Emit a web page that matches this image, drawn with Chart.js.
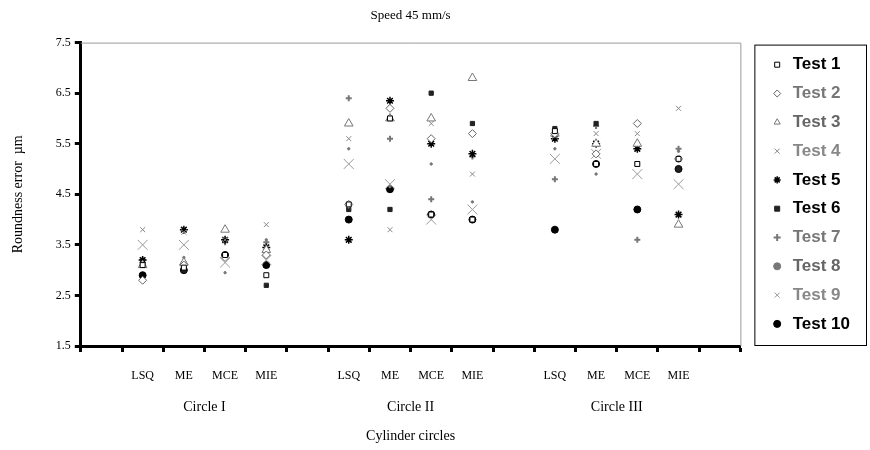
<!DOCTYPE html>
<html>
<head>
<meta charset="utf-8">
<script src="https://cdn.jsdelivr.net/npm/chart.js@4"></script>
<style>
  html, body { margin: 0; padding: 0; background: #fff; }
  #wrap { width: 870px; height: 450px; }
</style>
</head>
<body>
<div id="wrap"><canvas id="myChart" width="870" height="450"></canvas></div>
<script>
const methods = ['LSQ', 'ME', 'MCE', 'MIE'];
const circles = ['Circle I', 'Circle II', 'Circle III'];
const yTicks = [1.5, 2.5, 3.5, 4.5, 5.5, 6.5, 7.5];

// Circle I (LSQ, ME, MCE, MIE), Circle II (...), Circle III (...)
const test1 = [3.1, 3.05, 3.3, 2.9, 4.3, 6.0, 4.1, 4.0, 5.75, 5.1, 5.1, 5.2];
const test2 = [2.8, 3.1, 3.25, 3.3, 4.3, 6.2, 5.6, 5.7, 5.7, 5.3, 5.9, 5.2];
const test3 = [3.1, 3.15, 3.8, 3.4, 5.9, 6.0, 6.0, 6.8, 5.7, 5.5, 5.5, 3.9];
const test4 = [3.8, 3.75, 3.6, 3.9, 5.6, 3.8, 5.9, 4.9, 5.65, 5.7, 5.7, 6.2];
const test5 = [3.2, 3.8, 3.6, 3.45, 3.6, 6.35, 5.5, 5.3, 5.6, 5.5, 5.4, 4.1];
const test6 = [3.1, 3.0, 3.3, 2.7, 4.2, 4.2, 6.5, 5.9, 5.8, 5.9, 5.1, 5.0];
const test7 = [3.2, 3.15, 3.55, 3.55, 6.4, 5.6, 4.4, 5.25, 4.8, 5.85, 3.6, 5.4];
const test8 = [3.15, 3.25, 2.95, 3.6, 5.4, 4.65, 5.1, 4.35, 5.4, 4.9, 5.4, 5.35];
const test9 = [3.5, 3.5, 3.15, 3.2, 5.1, 4.7, 4.0, 4.2, 5.2, 5.3, 4.9, 4.7];
const test10 = [2.9, 3.0, 3.3, 3.1, 4.0, 4.6, 4.1, 4.0, 3.8, 5.1, 4.2, 5.0];

// one empty slot before, between and after the circle groups
const labels = [''];
circles.forEach(() => labels.push(...methods, ''));

const spread = (vals) => {
  const out = [null];
  circles.forEach((c, g) => {
    out.push(...vals.slice(g * methods.length, (g + 1) * methods.length), null);
  });
  return out;
};

const serif = 'Liberation Serif';

// grey frame on top/right of the plot, box around the legend
const framePlugin = {
  id: 'frame',
  beforeDatasetsDraw(chart) {
    const { ctx, chartArea: a } = chart;
    ctx.save();
    ctx.strokeStyle = '#999';
    ctx.lineWidth = 1;
    ctx.beginPath();
    ctx.moveTo(a.left, a.top + 0.5);
    ctx.lineTo(a.right + 0.5, a.top + 0.5);
    ctx.lineTo(a.right + 0.5, a.bottom);
    ctx.stroke();
    const l = chart.legend;
    ctx.strokeStyle = '#000';
    ctx.strokeRect(l.left - 3.5, a.top + 2.5, chart.width - 4 - l.left + 4, a.bottom - a.top - 3);
    ctx.restore();
  },
};

const ctx = document.getElementById('myChart');

new Chart(ctx, {
  type: 'line',
  data: {
    labels: labels,
    datasets: [
      { label: 'Test 1', data: spread(test1), pointStyle: 'rect', pointRadius: 3.5, backgroundColor: '#fff', borderColor: '#000', borderWidth: 1, textColor: '#000' },
      { label: 'Test 2', data: spread(test2), pointStyle: 'rectRot', pointRadius: 4, backgroundColor: '#fff', borderColor: '#666', borderWidth: 1, textColor: '#777' },
      { label: 'Test 3', data: spread(test3), pointStyle: 'triangle', pointRadius: 5, backgroundColor: '#fff', borderColor: '#777', borderWidth: 1, textColor: '#666' },
      { label: 'Test 4', data: spread(test4), pointStyle: 'crossRot', pointRadius: 3.5, backgroundColor: '#888', borderColor: '#888', borderWidth: 1, textColor: '#888' },
      { label: 'Test 5', data: spread(test5), pointStyle: 'star', pointRadius: 4, backgroundColor: '#000', borderColor: '#000', borderWidth: 1.5, textColor: '#000' },
      { label: 'Test 6', data: spread(test6), pointStyle: 'rect', pointRadius: 3, backgroundColor: '#222', borderColor: '#222', borderWidth: 1, textColor: '#000' },
      { label: 'Test 7', data: spread(test7), pointStyle: 'cross', pointRadius: 3, backgroundColor: '#777', borderColor: '#777', borderWidth: 2, textColor: '#777' },
      { label: 'Test 8', data: spread(test8), pointStyle: 'circle', pointRadius: 1.2, backgroundColor: '#777', borderColor: '#777', borderWidth: 1, textColor: '#666' },
      { label: 'Test 9', data: spread(test9), pointStyle: 'crossRot', pointRadius: 7, backgroundColor: '#999', borderColor: '#999', borderWidth: 1, textColor: '#888' },
      { label: 'Test 10', data: spread(test10), pointStyle: 'circle', pointRadius: 3.5, backgroundColor: '#000', borderColor: '#000', borderWidth: 1, textColor: '#000' },
    ],
  },
  options: {
    responsive: false,
    animation: false,
    showLine: false,
    layout: { padding: { left: 0, right: 10, top: 0, bottom: 0 } },
    plugins: {
      title: {
        display: true,
        fullSize: false,
        text: 'Speed 45 mm/s',
        color: '#000',
        font: { family: serif, size: 13, weight: 'normal' },
        padding: { top: 8, bottom: 19 },
      },
      legend: {
        position: 'right',
        align: 'center',
        fullSize: false,
        labels: {
          usePointStyle: true,
          boxWidth: 14,
          boxHeight: 5,
          padding: 11.8,
          font: { family: 'Liberation Sans', size: 17, weight: 'bold' },
          generateLabels: (chart) => {
            const items = Chart.defaults.plugins.legend.labels.generateLabels(chart);
            items.forEach((it, i) => { it.fontColor = chart.data.datasets[i].textColor; });
            return items;
          },
        },
      },
      tooltip: { enabled: false },
    },
    scales: {
      x: {
        type: 'category',
        offset: true,
        weight: 0,
        grid: { display: true, offset: true, drawOnChartArea: false, drawTicks: true, tickLength: 6, tickWidth: 3, tickColor: '#000' },
        border: { display: true, width: 3, color: '#000' },
        ticks: { autoSkip: false, maxRotation: 0, padding: 17, color: '#000', font: { family: serif, size: 12 } },
      },
      x2: {
        type: 'linear',
        position: 'bottom',
        weight: 1,
        min: 0,
        max: labels.length,
        grid: { display: false },
        border: { display: false },
        afterBuildTicks: (axis) => {
          axis.ticks = circles.map((c, g) => ({ value: 1 + g * (methods.length + 1) + methods.length / 2 }));
        },
        ticks: {
          maxRotation: 0,
          padding: -9,
          color: '#000',
          font: { family: serif, size: 14 },
          callback: (value, index) => circles[index],
        },
        title: {
          display: true,
          text: 'Cylinder circles',
          color: '#000',
          font: { family: serif, size: 14 },
          padding: { top: 21, bottom: 5 },
        },
      },
      y: {
        min: 1.5,
        max: 7.5,
        afterBuildTicks: (axis) => {
          axis.ticks = yTicks.map((v) => ({ value: v }));
        },
        grid: { display: true, drawOnChartArea: false, drawTicks: true, tickLength: 6, tickWidth: 3, tickColor: '#000' },
        border: { display: true, width: 3, color: '#000' },
        ticks: { padding: 4, color: '#000', font: { family: serif, size: 12 }, callback: (v) => Number(v).toFixed(1) },
        title: {
          display: true,
          text: 'Roundness error  µm',
          color: '#000',
          font: { family: serif, size: 14 },
          padding: { top: 10, bottom: 25 },
        },
      },
      gap: {
        type: 'linear',
        position: 'right',
        display: true,
        grid: { display: false },
        border: { display: false },
        ticks: { display: false },
        afterFit: (s) => { s.width = 18; },
      },
    },
  },
  plugins: [framePlugin],
});
</script>
</body>
</html>
